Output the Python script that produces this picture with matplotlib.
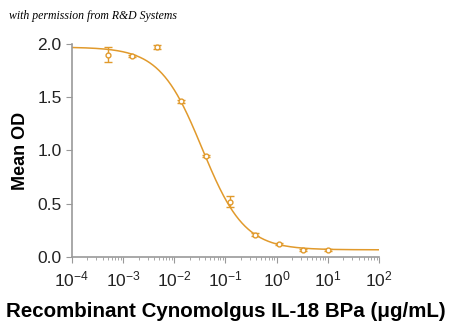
import numpy as np
import matplotlib
matplotlib.use("Agg")
import matplotlib.pyplot as plt
from matplotlib.ticker import LogLocator, NullFormatter

plt.rcParams['font.family'] = ['Liberation Sans', 'DejaVu Sans']
plt.rcParams['mathtext.fontset'] = 'custom'
plt.rcParams['mathtext.rm'] = 'Liberation Sans'

# data
conc = [0.000508, 0.00152, 0.00457, 0.0137, 0.0412, 0.123, 0.370, 1.11, 3.33, 10.0]
od = [1.90, 1.89, 1.97, 1.46, 0.95, 0.52, 0.21, 0.12, 0.07, 0.065]
od_err = [0.07, 0.01, 0.015, 0.01, 0.01, 0.05, 0.015, 0.01, 0.01, 0.008]

# 4PL fit parameters (estimated)
top, bottom, ic50, hill = 1.97, 0.068, 0.035, 1.05

col = '#E19A2C'

fig = plt.figure(figsize=(4.5, 3.25), dpi=100)
ax = fig.add_axes([0.16, 0.209, 0.682, 0.656])

xs = np.logspace(-4, 2, 400)
ys = bottom + (top - bottom) / (1 + (xs / ic50) ** hill)
ax.plot(xs, ys, color=col, lw=1.1)
ax.errorbar(conc, od, yerr=od_err, fmt='o', mfc='white', mec=col, ecolor=col,
            ms=3.5, mew=1.0, capsize=3, elinewidth=1.0, capthick=1.0)

ax.set_xscale('log')
ax.set_xlim(1e-4, 1e2)
ax.set_ylim(0, 2.0)
ax.set_yticks([0, 0.5, 1.0, 1.5, 2.0])
ax.set_yticklabels(['0.0', '0.5', '1.0', '1.5', '2.0'])
ax.xaxis.set_major_locator(LogLocator(base=10, numticks=10))
ax.xaxis.set_minor_locator(LogLocator(base=10, subs=np.arange(2, 10), numticks=10))
ax.xaxis.set_minor_formatter(NullFormatter())

for s in ['top', 'right']:
    ax.spines[s].set_visible(False)
for s in ['left', 'bottom']:
    ax.spines[s].set_color('#999999')
    ax.spines[s].set_linewidth(1.2)
ax.tick_params(colors='#999999', labelcolor='#222222', labelsize=12.5, length=4)
ax.tick_params(axis='x', which='minor', length=2, colors='#999999')
ax.tick_params(axis='x', pad=5)

ax.set_ylabel('Mean OD', fontsize=13, fontweight='bold', labelpad=6)
ax.set_xlabel('Recombinant Cynomolgus IL-18 BPa (\u03bcg/mL)', fontsize=14.8,
              fontweight='bold', labelpad=9)

fig.text(0.02, 0.94, 'with permission from R&D Systems', fontsize=8.5,
         style='italic', family='Liberation Serif')

fig.savefig('out.png', dpi=100)
